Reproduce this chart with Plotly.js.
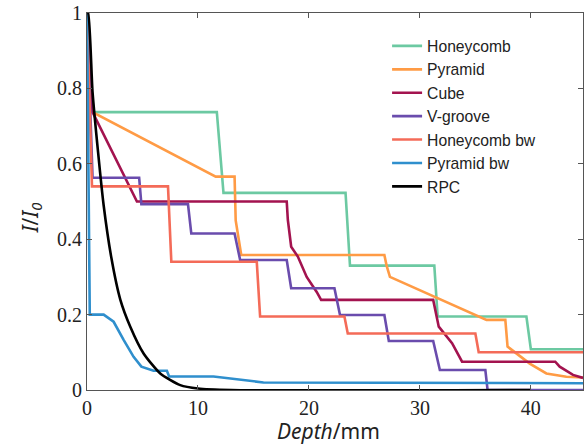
<!DOCTYPE html>
<html>
<head>
<meta charset="utf-8">
<script src="https://cdn.plot.ly/plotly-3.0.1.min.js"></script>
<style>html,body{margin:0;padding:0;background:#fff;}#chart{width:584px;height:447px;}</style>
</head>
<body>
<div id="chart"></div>
<script>
// Series names
const seriesNames = ["Honeycomb", "Pyramid", "Cube", "V-groove", "Honeycomb bw", "Pyramid bw", "RPC"];

// Depth (mm) and I/I0 values
const honeycombX = [0, 0.5, 11.7, 12.3, 23.3, 23.7, 31.3, 31.6, 39.6, 40.0, 44.7];
const honeycombY = [1.0, 0.737, 0.737, 0.523, 0.523, 0.33, 0.33, 0.195, 0.195, 0.108, 0.108];

const pyramidX = [0, 0.5, 11.6, 13.3, 13.4, 13.9, 26.8, 27.0, 27.3, 36.0, 37.7, 37.9, 39.9, 41.4, 43.2, 44.7];
const pyramidY = [1.0, 0.737, 0.566, 0.566, 0.45, 0.358, 0.358, 0.33, 0.30, 0.186, 0.186, 0.115, 0.07, 0.044, 0.035, 0.033];

const cubeX = [0, 0.5, 4.5, 18.0, 18.1, 18.4, 19.0, 19.8, 20.7, 21.1, 31.2, 31.5, 31.7, 32.9, 33.8, 42.2, 42.6, 43.8, 44.7];
const cubeY = [1.0, 0.737, 0.50, 0.50, 0.451, 0.38, 0.354, 0.30, 0.26, 0.239, 0.239, 0.20, 0.168, 0.124, 0.075, 0.075, 0.062, 0.04, 0.032];

const vgrooveX = [0, 0.5, 4.7, 4.9, 9.1, 9.4, 13.3, 13.8, 18.0, 18.4, 22.3, 22.8, 26.8, 27.2, 31.2, 31.8, 35.9, 36.1, 44.7];
const vgrooveY = [1.0, 0.563, 0.563, 0.493, 0.493, 0.415, 0.415, 0.345, 0.345, 0.27, 0.27, 0.199, 0.199, 0.13, 0.13, 0.053, 0.053, 0.0, 0.0];

const honeycombBwX = [0, 0.45, 7.3, 7.6, 15.3, 15.6, 23.2, 23.5, 35.0, 35.3, 44.7];
const honeycombBwY = [1.0, 0.54, 0.54, 0.34, 0.34, 0.195, 0.195, 0.15, 0.15, 0.10, 0.10];

const pyramidBwX = [0, 0.25, 1.5, 2.4, 3.3, 4.2, 4.9, 6.0, 7.2, 7.4, 11.4, 13.0, 15.9, 44.7];
const pyramidBwY = [1.0, 0.2, 0.2, 0.181, 0.133, 0.088, 0.062, 0.051, 0.051, 0.036, 0.036, 0.03, 0.02, 0.018];

const rpcX = [0, 0.1, 0.5, 1.0, 1.5, 2.2, 3.0, 3.9, 5.1, 6.6, 8.4, 10.0, 13.0, 40.0];
const rpcY = [1.0, 1.0, 0.79, 0.63, 0.49, 0.35, 0.24, 0.168, 0.097, 0.044, 0.013, 0.004, 0.0, 0.0];

// Axis ticks and titles
const xTicks = [0, 10, 20, 30, 40];
const xTickText = ["0", "10", "20", "30", "40"];
const yTicks = [0, 0.2, 0.4, 0.6, 0.8, 1];
const yTickText = ["0", "0.2", "0.4", "0.6", "0.8", "1"];
const xTitle = "<i>Depth</i>/mm";
const yTitle = "<i>I</i>/<i>I<sub>0</sub></i>";

const colors = ["#6cc9a2", "#ff9b45", "#a3134f", "#6a4cad", "#f46b58", "#2f8fcd", "#000000"];
const xs = [honeycombX, pyramidX, cubeX, vgrooveX, honeycombBwX, pyramidBwX, rpcX];
const ys = [honeycombY, pyramidY, cubeY, vgrooveY, honeycombBwY, pyramidBwY, rpcY];

const traces = seriesNames.map((n, i) => ({
  type: "scatter", mode: "lines", name: n,
  x: xs[i], y: ys[i],
  line: {color: colors[i], width: 2.6, shape: i === 6 ? "spline" : "linear", smoothing: 0.6},
  cliponaxis: false
}));

const axisCommon = {
  showgrid: false, zeroline: false, showline: true, linecolor: "#555", linewidth: 1,
  mirror: "ticks", ticks: "inside", ticklen: 5, tickcolor: "#555",
  tickfont: {family: "'Liberation Serif', 'Times New Roman', 'DejaVu Serif', serif", size: 20, color: "#222"}
};

const titleFont = {family: "Noto Sans", size: 21, color: "#222"};

const layout = {
  width: 584, height: 447,
  margin: {l: 87, r: 1, t: 13, b: 57},
  paper_bgcolor: "#fff", plot_bgcolor: "#fff",
  showlegend: true,
  legend: {
    x: 0.605, y: 0.957, xanchor: "left", yanchor: "top",
    bgcolor: "rgba(255,255,255,0)", borderwidth: 0,
    font: {family: "Liberation Sans", size: 15.7, color: "#222"},
    tracegroupgap: 0
  },
  xaxis: Object.assign({}, axisCommon, {range: [0, 44.7], tickvals: xTicks, ticktext: xTickText}),
  yaxis: Object.assign({}, axisCommon, {range: [0, 1], tickvals: yTicks, ticktext: yTickText}),
  annotations: [
    {text: xTitle, xref: "paper", yref: "paper", x: 0.486, y: -0.108, xanchor: "center", yanchor: "middle",
     showarrow: false, font: titleFont},
    {text: yTitle, xref: "paper", yref: "paper", x: -0.113, y: 0.458, xanchor: "center", yanchor: "middle",
     textangle: -90, showarrow: false, font: titleFont}
  ]
};

Plotly.newPlot("chart", traces, layout, {displayModeBar: false, staticPlot: true});
</script>
</body>
</html>
